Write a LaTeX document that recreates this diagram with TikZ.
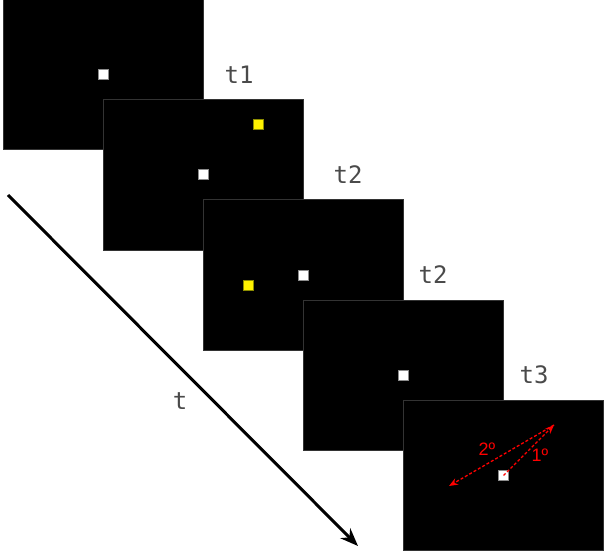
\documentclass[tikz,border=0pt]{standalone}
\usepackage{fontspec}
\newfontfamily\tfont{DejaVu Sans Mono}
\newfontfamily\degfont{Liberation Sans}
\usetikzlibrary{arrows.meta}
\definecolor{framegray}{HTML}{333333}
\definecolor{labelgray}{HTML}{4A4A4A}
\definecolor{dotedge}{HTML}{8C8C8C}
\definecolor{yellowedge}{HTML}{8C8C00}
\begin{document}
\begin{tikzpicture}[x=1pt, y=-1pt,
 panel/.style={rectangle, draw=framegray, fill=black, line width=1pt, minimum width=200pt, minimum height=150pt, inner sep=0pt},
 whitedot/.style={rectangle, draw=dotedge, fill=white, line width=1pt, minimum size=10pt, inner sep=0pt},
 yellowdot/.style={rectangle, draw=yellowedge, fill=yellow, line width=1pt, minimum size=10pt, inner sep=0pt},
 tlabel/.style={text=labelgray, font=\tfont\fontsize{24}{24}\selectfont, inner sep=0pt},
 deglabel/.style={text=red, font=\degfont\fontsize{18}{18}\selectfont, inner sep=0pt},
 redarrow/.style={red, line width=1.3pt, dash pattern=on 3pt off 2pt, -{Stealth[length=9pt, width=7pt]}},
 ]
  \useasboundingbox (0,0) rectangle (605,556);

  % frames, each one laid over the one before
  \node[panel] (p1) at (103.5,75) {};
  \node[whitedot] (d1) at (103.5,75) {};
  \node[tlabel] (t1) at (239,75) {t1};

  \node[panel] (p2) at (203.5,175) {};
  \node[yellowdot] (y2) at (258.5,125) {};
  \node[whitedot] (d2) at (203.5,175) {};
  \node[tlabel] (t2a) at (348,175) {t2};

  \node[panel] (p3) at (303.5,275) {};
  \node[yellowdot] (y3) at (248.5,285) {};
  \node[whitedot] (d3) at (303.5,275) {};
  \node[tlabel] (t2b) at (433,275) {t2};

  \node[panel] (p4) at (403.5,375) {};
  \node[whitedot] (d4) at (403.5,375) {};
  \node[tlabel] (t3) at (534,375) {t3};

  \node[panel] (p5) at (503.5,475) {};
  \node[whitedot] (d5) at (503.5,475.5) {};

  % saccade targets in the last frame
  \coordinate (tip) at (554,425);
  \coordinate (back) at (449,486);
  \draw[redarrow] (d5.center) -- (tip);
  \draw[redarrow] (tip) -- (back);
  \node[deglabel] (deg2) at (487,449) {2º};
  \node[deglabel] (deg1) at (540,455) {1º};

  % time axis
  \coordinate (tstart) at (8,195);
  \coordinate (tend) at (358,546);
  \draw[line width=3pt, -{Stealth[length=18pt, width=14pt]}] (tstart) -- (tend);
  \node[tlabel] (t) at (180,401) {t};
\end{tikzpicture}
\end{document}
